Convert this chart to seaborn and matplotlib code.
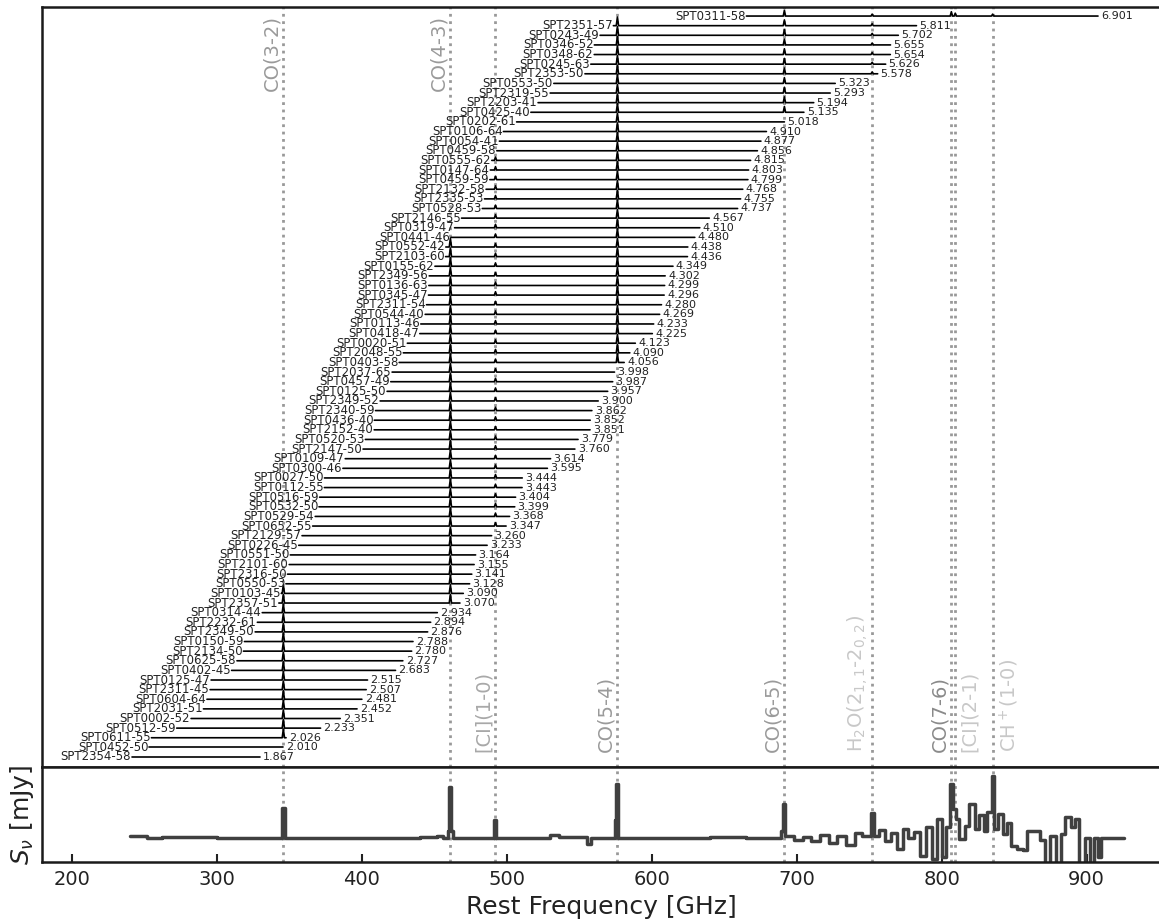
import numpy as np
import pandas as pd
import seaborn as sns
import matplotlib
matplotlib.use('Agg')
import matplotlib.pyplot as plt

sns.set_style('white')
plt.rcParams['font.family'] = ['DejaVu Sans']
plt.rcParams['mathtext.fontset'] = 'dejavusans'

# 源名和红移 (从上到下)
names = ['SPT0311-58', 'SPT2351-57', 'SPT0243-49', 'SPT0346-52', 'SPT0348-62', 'SPT0245-63',
         'SPT2353-50', 'SPT0553-50', 'SPT2319-55', 'SPT2203-41', 'SPT0425-40', 'SPT0202-61',
         'SPT0106-64', 'SPT0054-41', 'SPT0459-58', 'SPT0555-62', 'SPT0147-64', 'SPT0459-59',
         'SPT2132-58', 'SPT2335-53', 'SPT0528-53', 'SPT2146-55', 'SPT0319-47', 'SPT0441-46',
         'SPT0552-42', 'SPT2103-60', 'SPT0155-62', 'SPT2349-56', 'SPT0136-63', 'SPT0345-47',
         'SPT2311-54', 'SPT0544-40', 'SPT0113-46', 'SPT0418-47', 'SPT0020-51', 'SPT2048-55',
         'SPT0403-58', 'SPT2037-65', 'SPT0457-49', 'SPT0125-50', 'SPT2349-52', 'SPT2340-59',
         'SPT0436-40', 'SPT2152-40', 'SPT0520-53', 'SPT2147-50', 'SPT0109-47', 'SPT0300-46',
         'SPT0027-50', 'SPT0112-55', 'SPT0516-59', 'SPT0532-50', 'SPT0529-54', 'SPT0652-55',
         'SPT2129-57', 'SPT0226-45', 'SPT0551-50', 'SPT2101-60', 'SPT2316-50', 'SPT0550-53',
         'SPT0103-45', 'SPT2357-51', 'SPT0314-44', 'SPT2232-61', 'SPT2349-50', 'SPT0150-59',
         'SPT2134-50', 'SPT0625-58', 'SPT0402-45', 'SPT0125-47', 'SPT2311-45', 'SPT0604-64',
         'SPT2031-51', 'SPT0002-52', 'SPT0512-59', 'SPT0611-55', 'SPT0452-50', 'SPT2354-58']
redshifts = [6.901, 5.811, 5.702, 5.655, 5.654, 5.626, 5.578, 5.323, 5.293, 5.194, 5.135, 5.018,
             4.910, 4.877, 4.856, 4.815, 4.803, 4.799, 4.768, 4.755, 4.737, 4.567, 4.510, 4.480,
             4.438, 4.436, 4.349, 4.302, 4.299, 4.296, 4.280, 4.269, 4.233, 4.225, 4.123, 4.090,
             4.056, 3.998, 3.987, 3.957, 3.900, 3.862, 3.852, 3.851, 3.779, 3.760, 3.614, 3.595,
             3.444, 3.443, 3.404, 3.399, 3.368, 3.347, 3.260, 3.233, 3.164, 3.155, 3.141, 3.128,
             3.090, 3.070, 2.934, 2.894, 2.876, 2.788, 2.780, 2.727, 2.683, 2.515, 2.507, 2.481,
             2.452, 2.351, 2.233, 2.026, 2.010, 1.867]

# 观测频段 GHz
obs_lo, obs_hi = 84.2, 114.9

# 谱线
line_names = ['CO(3-2)', 'CO(4-3)', '[CI](1-0)', 'CO(5-4)', 'CO(6-5)',
              'H$_2$O(2$_{1,1}$-2$_{0,2}$)', 'CO(7-6)', '[CI](2-1)', 'CH$^+$(1-0)']
line_freqs = [345.80, 461.04, 492.16, 576.27, 691.47, 752.03, 806.65, 809.34, 835.14]
line_amps = [0.9, 0.9, 0.35, 0.9, 0.6, 0.2, 0.45, 0.3, 0.2]

# 叠加谱 (steps)
stack_freq = [240, 252, 262, 300, 344.8, 346.6, 400, 440, 452, 456, 459.4, 460.4, 461.8, 463,
              491.4, 492.8, 530, 536, 555, 558, 574.6, 575.6, 577, 640, 665, 689.4, 690.6, 692,
              698, 704, 710, 716, 722, 728, 734, 740, 745, 751.2, 753, 757, 761, 765, 769, 773,
              777, 781, 785, 789, 793, 797, 800, 803, 805.8, 807.8, 810, 812, 816, 819, 823, 826,
              829, 831, 834.4, 836.4, 839, 842, 845, 848, 852, 856, 859, 864, 868, 871, 875, 879,
              882, 885, 889, 892, 895, 899, 902, 905, 908, 910, 926]
stack_flux = [0.02, 0.0, 0.01, 0.0, 0.32, 0.0, 0.0, 0.01, 0.02, 0.0, 0.08, 0.54, 0.08, 0.0,
              0.19, 0.0, 0.03, 0.01, -0.06, 0.0, 0.19, 0.575, 0.0, 0.01, 0.0, 0.08, 0.36, 0.02,
              -0.02, 0.01, -0.03, 0.03, -0.05, 0.02, -0.07, 0.06, 0.02, 0.27, 0.02, 0.09, -0.03,
              0.06, -0.11, 0.10, 0.0, 0.07, -0.19, 0.12, -0.22, 0.20, -0.20, 0.12, 0.57, 0.31,
              0.20, -0.01, 0.13, 0.36, 0.10, 0.24, 0.08, 0.28, 0.66, 0.10, 0.26, 0.05, 0.16,
              -0.08, -0.11, -0.12, 0.08, 0.08, -0.02, -0.30, 0.02, -0.30, 0.05, 0.22, 0.12, 0.20,
              -0.30, 0.0, -0.30, 0.0, -0.20, 0.0, 0.0]

# 整理成长表
n = len(names)
recs = []
for k, (nm, z) in enumerate(zip(names, redshifts)):
    row = n - 1 - k
    lo = obs_lo * (1 + z)
    hi = obs_hi * (1 + z)
    recs.append((nm, lo, row))
    recs.append((nm, hi, row))
    for f, a in zip(line_freqs, line_amps):
        if lo + 1 < f < hi - 1:
            recs.append((nm, f - 0.8, row))
            recs.append((nm, f, row + a))
            recs.append((nm, f + 0.8, row))
spec_df = pd.DataFrame(recs, columns=['source', 'freq', 'y'])

fig = plt.figure(figsize=(11.59, 9.22), dpi=100)
W, H = 1159., 922.
ax = fig.add_axes([42 / W, (H - 767) / H, (W - 42) / W + 0.002, 760 / H])
ax2 = fig.add_axes([42 / W, (H - 862) / H, (W - 42) / W + 0.002, 95 / H])
xlim = (179.3, 951.5)

sns.lineplot(data=spec_df, x='freq', y='y', units='source', estimator=None, sort=True,
             color='black', lw=1.2, ax=ax, legend=False)

for k, (nm, z) in enumerate(zip(names, redshifts)):
    row = n - 1 - k
    ax.text(obs_lo * (1 + z) - 0.6, row, nm, ha='right', va='center', fontsize=8.5, color='#222222')
    ax.text(obs_hi * (1 + z) + 2.0, row, '%.3f' % z, ha='left', va='center', fontsize=8, color='#222222')

label_colors = ['#9a9a9a', '#9a9a9a', '#a8a8a8', '#9a9a9a', '#9a9a9a', '#c8c8c8', '#8a8a8a',
                '#c8c8c8', '#c8c8c8']
label_top = [True, True, False, False, False, False, False, False, False]
label_left = [True, True, True, True, True, True, True, False, False]

for f, lab, c, top, left in zip(line_freqs, line_names, label_colors, label_top, label_left):
    for a in (ax, ax2):
        a.axvline(f, color='#999999', ls=':', lw=2, zorder=0)
    ax.text(f - 1.5 if left else f + 3.5, 0.989 if top else 0.02, lab, rotation=90,
            ha='right' if left else 'left', va='top' if top else 'bottom',
            fontsize=14, color=c, transform=ax.get_xaxis_transform())

ax.set_xlim(*xlim)
ax.set_ylim(-1.04, n - 1 + 0.94)
ax.set_xticks([])
ax.set_yticks([])
ax.set_xlabel('')
ax.set_ylabel('')

sns.lineplot(x=stack_freq, y=stack_flux, drawstyle='steps-post', color='#404040', lw=2.5,
             ax=ax2, sort=False)
ax2.set_xlim(*xlim)
ax2.set_ylim(-0.25, 0.75)
ax2.set_yticks([])
ax2.set_xticks([200, 300, 400, 500, 600, 700, 800, 900])
ax2.tick_params(axis='x', direction='in', length=6, width=1.5, labelsize=14, colors='#222222',
                bottom=True, pad=6)
ax2.set_xlabel('Rest Frequency [GHz]', fontsize=18, color='#222222')
ax2.set_ylabel(r'$S_\nu$ [mJy]', fontsize=18, color='#222222')

for a in (ax, ax2):
    for s in a.spines.values():
        s.set_linewidth(1.8)
        s.set_color('#1a1a1a')
    a.spines['right'].set_visible(False)

fig.savefig('out.png', dpi=100)
